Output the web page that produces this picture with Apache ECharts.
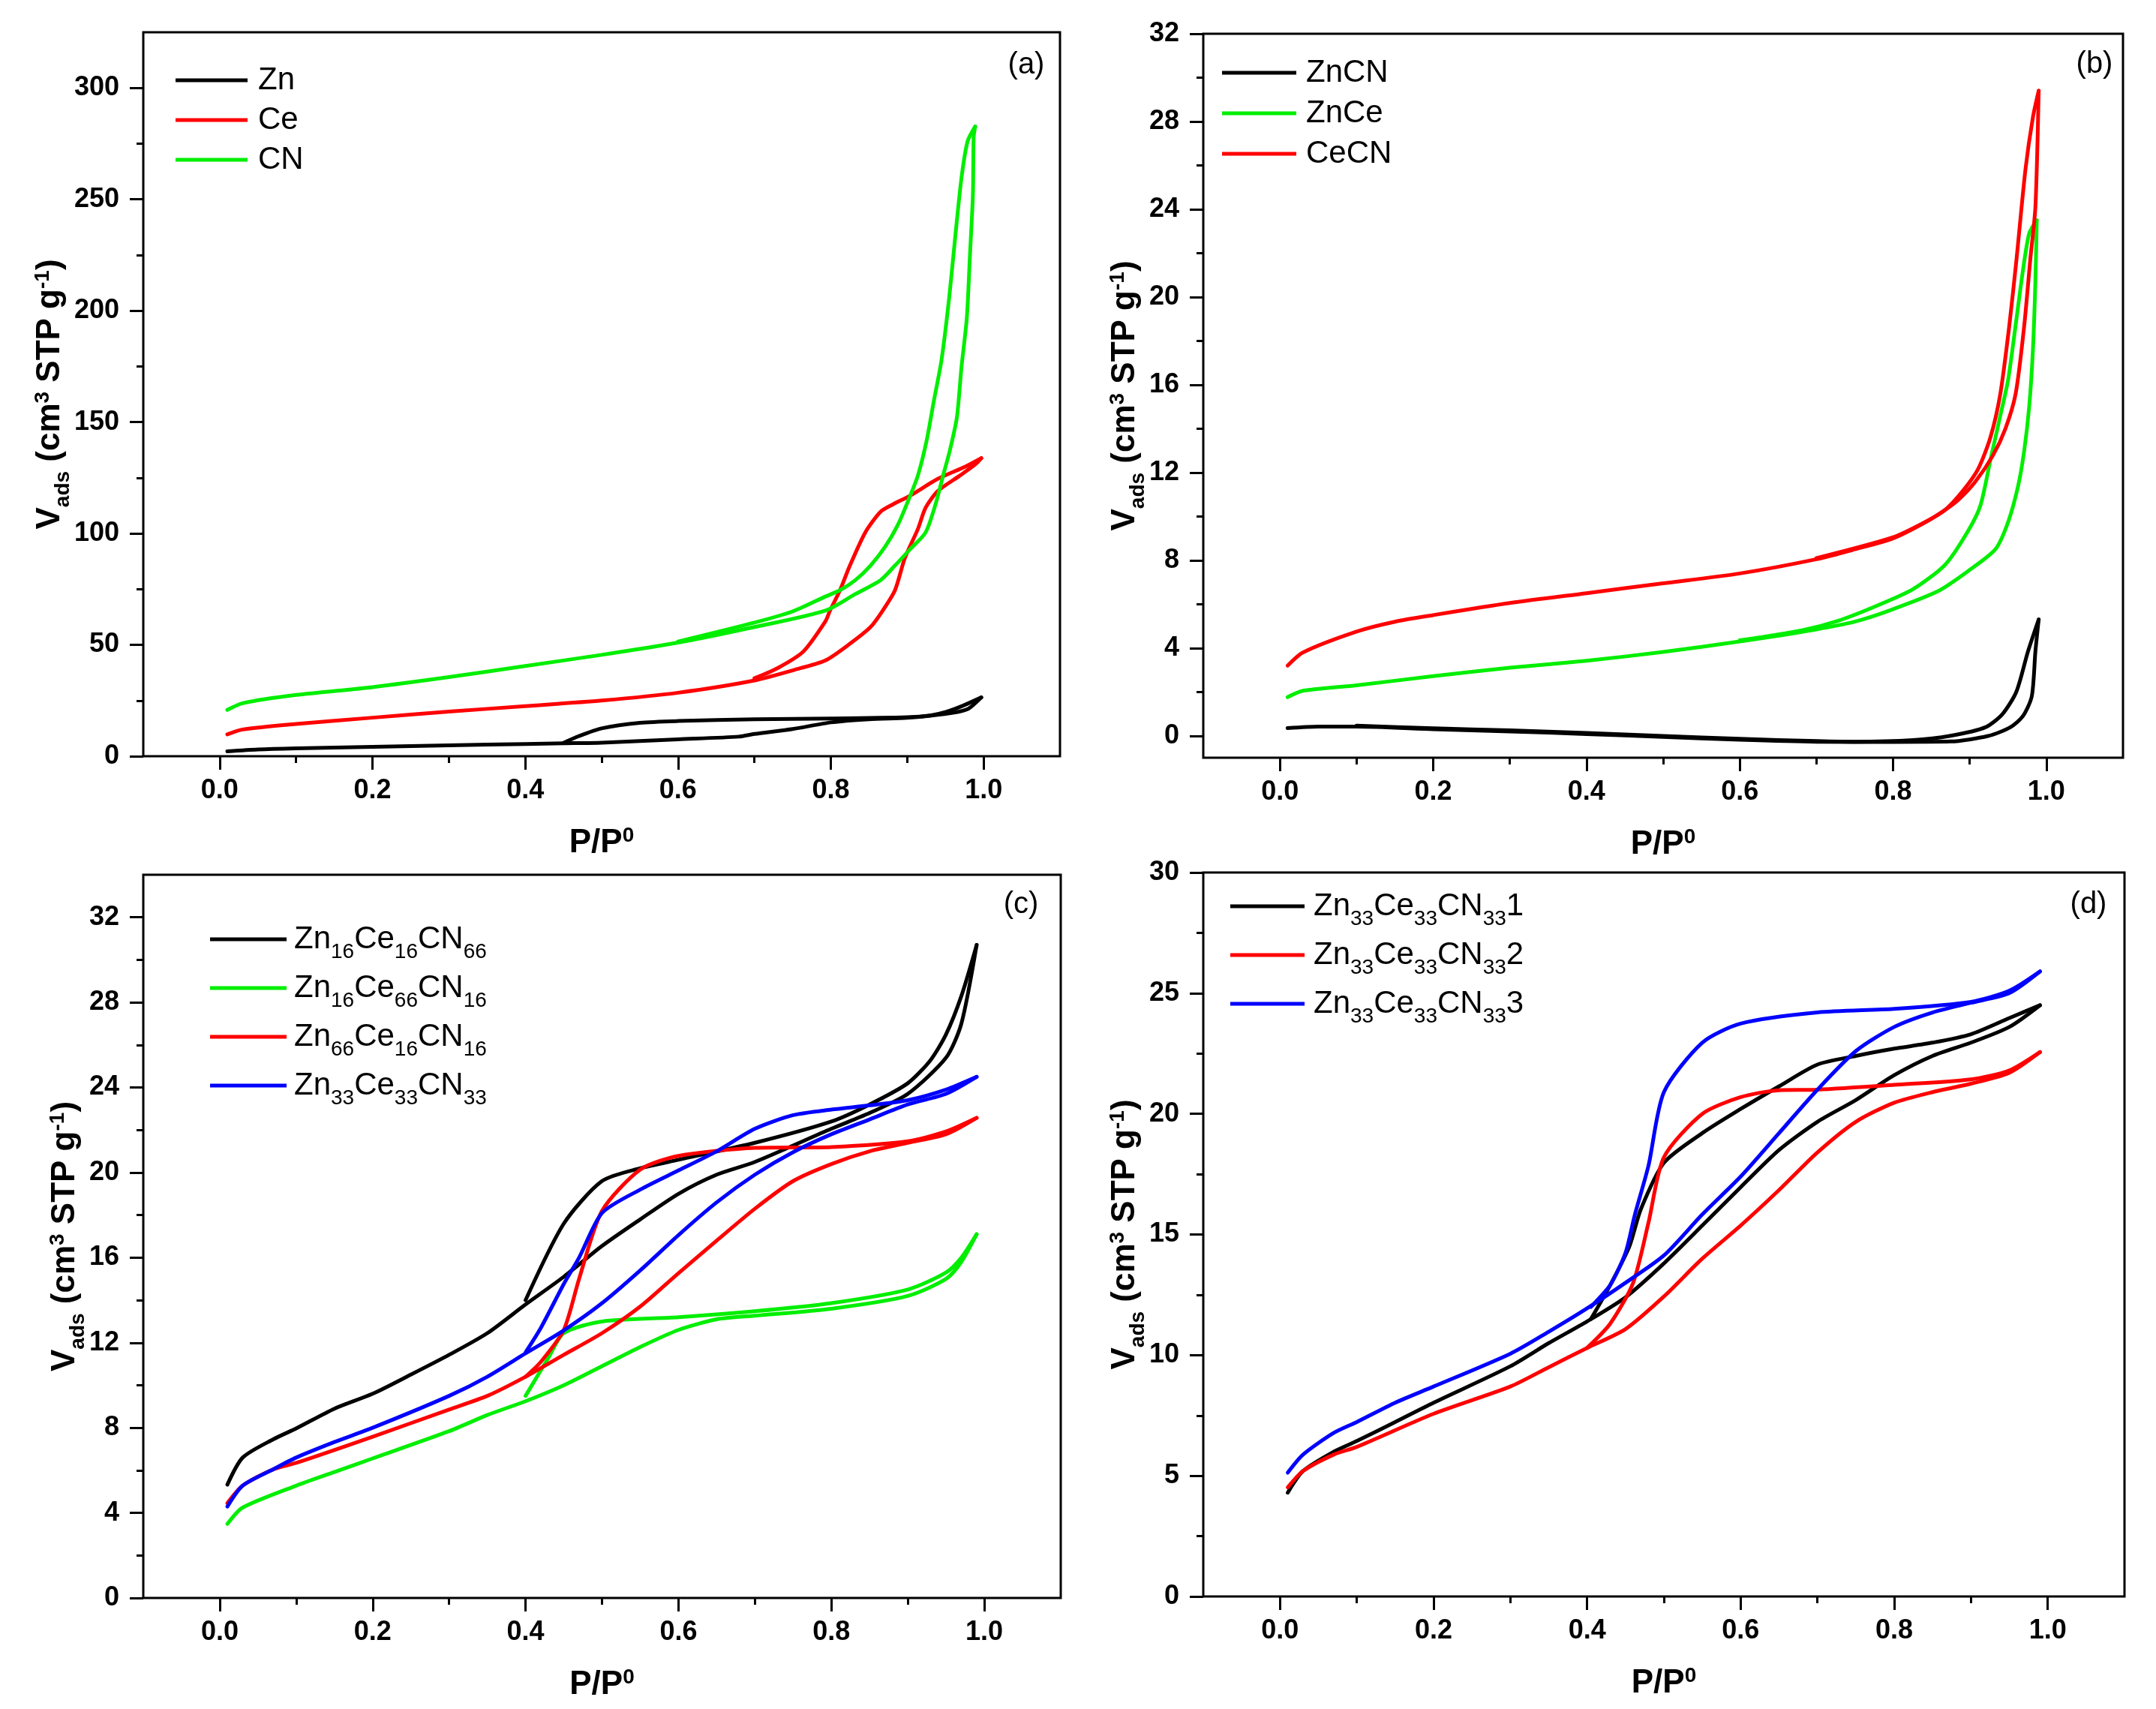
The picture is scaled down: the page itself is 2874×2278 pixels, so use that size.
<!DOCTYPE html>
<html><head><meta charset="utf-8">
<script src="https://cdn.jsdelivr.net/npm/echarts@6/dist/echarts.min.js"></script>
<style>html,body{margin:0;padding:0;background:#fff}#c{width:2874px;height:2278px}</style>
</head><body><div id="c"></div>
<script>
// ---------- DATA (P/P0, V_ads) ----------
// Panel (a)
const znAds = [[0.01,2.2],[0.05,3.0],[0.1,3.5],[0.2,4.2],[0.3,4.9],[0.4,5.5],[0.45,5.8],[0.5,6.1],[0.6,7.6],[0.68,8.8],[0.7,10.0],[0.75,12.2],[0.8,15.2],[0.85,16.6],[0.9,17.3],[0.93,18.2],[0.96,19.5],[0.98,21.3],[0.997,26.4]];
const znDes = [[0.997,26.4],[0.973,22.7],[0.95,19.8],[0.93,18.3],[0.9,17.5],[0.8,16.9],[0.7,16.6],[0.6,15.8],[0.55,15.0],[0.5,12.5],[0.47,9.0],[0.45,6.0]];
const ceAds = [[0.01,9.8],[0.03,12.0],[0.1,14.5],[0.2,17.3],[0.3,20.0],[0.4,22.5],[0.5,25.0],[0.6,28.5],[0.7,34.0],[0.76,39.5],[0.793,43],[0.825,50.5],[0.852,58],[0.868,65.4],[0.884,74.5],[0.897,89],[0.914,102],[0.924,111.5],[0.94,119],[0.969,126],[0.989,131],[0.997,133.8]];
const ceDes = [[0.997,133.8],[0.976,130],[0.94,124.5],[0.904,117],[0.881,113],[0.865,109.7],[0.845,100.4],[0.825,85.6],[0.812,74.5],[0.799,65.4],[0.793,60.6],[0.764,47],[0.73,39.5],[0.7,35]];
const cnAds = [[0.01,20.8],[0.03,23.8],[0.1,27.5],[0.2,31],[0.3,35.5],[0.4,40.5],[0.5,45.5],[0.6,51],[0.7,58],[0.793,65.4],[0.832,72.8],[0.865,79],[0.884,85.6],[0.904,93],[0.924,100.4],[0.937,113],[0.947,126],[0.956,137.5],[0.965,152],[0.971,174.5],[0.978,196.6],[0.982,224],[0.986,252],[0.987,278],[0.989,282.7]];
const cnDes = [[0.989,282.7],[0.979,276],[0.971,259.5],[0.963,233.6],[0.955,206],[0.945,178],[0.935,159.7],[0.925,141],[0.914,126],[0.904,117],[0.888,104],[0.871,94],[0.852,85.6],[0.832,79],[0.812,74.5],[0.793,71.7],[0.75,65],[0.7,60],[0.6,51.5]];
// Panel (b)
const znCnAds = [[0.01,0.35],[0.05,0.42],[0.1,0.42],[0.2,0.3],[0.3,0.2],[0.4,0.08],[0.5,-0.05],[0.6,-0.18],[0.7,-0.27],[0.8,-0.28],[0.875,-0.26],[0.924,-0.01],[0.953,0.39],[0.9695,0.9],[0.981,1.8],[0.9857,3.84],[0.99,5.3]];
const znCnDes = [[0.99,5.3],[0.976,3.84],[0.961,2.02],[0.943,1.0],[0.9205,0.39],[0.875,0.0],[0.826,-0.2],[0.75,-0.27],[0.7,-0.24],[0.6,-0.14],[0.5,-0.01],[0.4,0.13],[0.3,0.25],[0.2,0.34],[0.1,0.46]];
const znCeAds = [[0.01,1.76],[0.03,2.05],[0.1,2.3],[0.2,2.72],[0.3,3.1],[0.4,3.42],[0.5,3.82],[0.6,4.3],[0.7,4.85],[0.75,5.2],[0.793,5.68],[0.858,6.58],[0.8976,7.5],[0.9335,8.5],[0.95,9.73],[0.963,11.36],[0.971,12.97],[0.9776,15.0],[0.9825,17.6],[0.9857,20.7],[0.9875,23.5]];
const znCeDes = [[0.9875,23.5],[0.9776,22.9],[0.969,21.1],[0.9597,18.66],[0.95,16.2],[0.94,14.6],[0.927,12.57],[0.914,10.5],[0.8976,9.32],[0.868,7.8],[0.826,6.68],[0.777,5.9],[0.728,5.24],[0.68,4.8],[0.6,4.35]];
const ceCnAds = [[0.01,3.2],[0.03,3.8],[0.1,4.75],[0.15,5.2],[0.2,5.5],[0.3,6.05],[0.4,6.5],[0.5,6.95],[0.6,7.4],[0.7,8.05],[0.75,8.5],[0.8,9.0],[0.842,9.73],[0.868,10.3],[0.885,10.75],[0.907,11.57],[0.93,12.76],[0.9466,14.0],[0.96,15.6],[0.971,18.65],[0.979,21.7],[0.9857,24.1],[0.99,29.4]];
const ceCnDes = [[0.99,29.4],[0.9825,28.2],[0.9727,25.8],[0.961,21.7],[0.9515,18.65],[0.94,15.6],[0.927,13.6],[0.911,12.16],[0.891,11.16],[0.868,10.3],[0.842,9.75],[0.8,9.05],[0.7,8.1]];
// Panel (c)
const c1Ads = [[0.01,5.33],[0.03,6.6],[0.07,7.46],[0.1,7.97],[0.15,8.9],[0.2,9.6],[0.25,10.5],[0.3,11.43],[0.35,12.45],[0.4,13.8],[0.45,15.1],[0.5,16.55],[0.55,17.8],[0.6,19.0],[0.65,19.9],[0.7,20.5],[0.8,22.06],[0.85,22.8],[0.9,23.7],[0.95,25.4],[0.97,27.0],[0.99,30.7]];
const c1Des = [[0.99,30.7],[0.97,28.3],[0.95,26.5],[0.93,25.3],[0.9,24.2],[0.85,23.2],[0.8,22.4],[0.7,21.4],[0.6,20.6],[0.55,20.2],[0.5,19.6],[0.45,17.6],[0.4,14.0]];
const c2Ads = [[0.01,3.48],[0.03,4.25],[0.1,5.28],[0.15,5.92],[0.2,6.56],[0.3,7.84],[0.35,8.6],[0.4,9.25],[0.45,10.0],[0.5,10.9],[0.55,11.8],[0.6,12.6],[0.65,13.1],[0.7,13.27],[0.8,13.6],[0.9,14.2],[0.95,15.0],[0.97,15.8],[0.99,17.1]];
const c2Des = [[0.99,17.1],[0.97,16.0],[0.95,15.3],[0.9,14.5],[0.8,13.86],[0.7,13.48],[0.6,13.2],[0.5,13.0],[0.45,12.45],[0.43,11.3],[0.4,9.5]];
const c3Ads = [[0.01,4.46],[0.03,5.28],[0.07,6.05],[0.1,6.35],[0.2,7.58],[0.3,8.86],[0.35,9.5],[0.4,10.4],[0.45,11.43],[0.5,12.45],[0.55,13.7],[0.6,15.27],[0.65,16.8],[0.7,18.3],[0.75,19.6],[0.8,20.4],[0.85,21.0],[0.9,21.4],[0.95,21.8],[0.99,22.57]];
const c3Des = [[0.99,22.57],[0.95,21.93],[0.9,21.47],[0.8,21.2],[0.7,21.16],[0.6,20.78],[0.55,20.14],[0.5,18.2],[0.47,15.0],[0.45,12.6],[0.42,11.1],[0.4,10.4]];
const c4Ads = [[0.01,4.3],[0.03,5.28],[0.07,6.05],[0.1,6.6],[0.15,7.33],[0.2,8.0],[0.3,9.5],[0.35,10.4],[0.4,11.5],[0.45,12.58],[0.5,13.86],[0.55,15.4],[0.6,17.06],[0.65,18.6],[0.7,19.9],[0.75,20.96],[0.8,21.8],[0.85,22.5],[0.9,23.2],[0.95,23.7],[0.99,24.5]];
const c4Des = [[0.99,24.5],[0.95,23.9],[0.9,23.4],[0.85,23.16],[0.8,22.96],[0.75,22.7],[0.7,22.06],[0.65,21.0],[0.6,20.1],[0.55,19.2],[0.5,18.1],[0.47,16.0],[0.45,14.76],[0.42,12.7],[0.4,11.55]];
// Panel (d)
const d1Ads = [[0.01,4.3],[0.03,5.2],[0.07,6.0],[0.1,6.44],[0.15,7.23],[0.2,8.03],[0.3,9.54],[0.35,10.5],[0.4,11.4],[0.45,12.4],[0.5,13.8],[0.55,15.37],[0.6,16.96],[0.65,18.5],[0.7,19.67],[0.75,20.57],[0.8,21.6],[0.85,22.4],[0.9,22.95],[0.95,23.6],[0.99,24.5]];
const d1Des = [[0.99,24.5],[0.95,23.97],[0.9,23.3],[0.85,22.95],[0.8,22.7],[0.75,22.4],[0.7,22.04],[0.65,21.14],[0.6,20.2],[0.55,19.2],[0.5,17.97],[0.47,16.05],[0.455,14.5],[0.43,12.9],[0.405,11.5]];
const d2Ads = [[0.01,4.52],[0.03,5.2],[0.07,5.88],[0.1,6.2],[0.2,7.57],[0.3,8.7],[0.35,9.5],[0.4,10.3],[0.45,11.08],[0.5,12.43],[0.55,14.0],[0.6,15.37],[0.65,16.84],[0.7,18.4],[0.75,19.67],[0.8,20.46],[0.85,20.9],[0.9,21.25],[0.95,21.7],[0.99,22.56]];
const d2Des = [[0.99,22.56],[0.95,21.8],[0.9,21.43],[0.8,21.2],[0.7,21.0],[0.65,20.98],[0.6,20.69],[0.55,20.0],[0.5,18.2],[0.48,15.5],[0.46,13.0],[0.43,11.3],[0.4,10.3]];
const d3Ads = [[0.01,5.13],[0.03,5.88],[0.07,6.78],[0.1,7.23],[0.15,8.03],[0.2,8.7],[0.3,10.06],[0.35,10.97],[0.4,11.94],[0.45,13.0],[0.5,14.13],[0.55,15.83],[0.6,17.4],[0.65,19.2],[0.7,21.0],[0.75,22.6],[0.8,23.6],[0.85,24.2],[0.9,24.6],[0.95,25.0],[0.99,25.9]];
const d3Des = [[0.99,25.9],[0.95,25.1],[0.9,24.64],[0.8,24.35],[0.7,24.2],[0.6,23.74],[0.55,22.95],[0.5,20.9],[0.48,17.86],[0.462,15.8],[0.45,14.24],[0.43,12.9],[0.405,12.0]];

const xTickLabels = ['0.0','0.2','0.4','0.6','0.8','1.0'];

// ---------- LAYOUT / STYLE ----------
const FONT = "'Liberation Sans', Arial, Helvetica, sans-serif";
const BLACK = '#000000', RED = '#ff0000', GREEN = '#00ee00', BLUE = '#0000ff';

const panels = [
  { key:'a', L:191, T:43, W:1222, H:965, yMin:0, yMax:325, tMin:0, tMax:300, tInt:50, yGap:102,
    lg:{left:234, top:86, w:96, gap:11, pad:9, rich:false}, lab:[1368,87],
    series:[{name:'Zn', color:BLACK, ads:znAds, des:znDes},{name:'Ce', color:RED, ads:ceAds, des:ceDes},{name:'CN', color:GREEN, ads:cnAds, des:cnDes}] },
  { key:'b', L:1604, T:45, W:1226, H:965, yMin:-1, yMax:32, tMin:0, tMax:32, tInt:4, yGap:82,
    lg:{left:1629, top:76, w:99, gap:12, pad:8, rich:false}, lab:[2792,86],
    series:[{name:'ZnCN', color:BLACK, ads:znCnAds, des:znCnDes},{name:'ZnCe', color:GREEN, ads:znCeAds, des:znCeDes},{name:'CeCN', color:RED, ads:ceCnAds, des:ceCnDes}] },
  { key:'c', L:191, T:1166, W:1223, H:964, yMin:0, yMax:34, tMin:0, tMax:32, tInt:4, yGap:82,
    lg:{left:280, top:1221, w:102, gap:3, pad:5, rich:true}, lab:[1361,1206],
    series:[{name:'Zn16Ce16CN66', color:BLACK, ads:c1Ads, des:c1Des},{name:'Zn16Ce66CN16', color:GREEN, ads:c2Ads, des:c2Des},{name:'Zn66Ce16CN16', color:RED, ads:c3Ads, des:c3Des},{name:'Zn33Ce33CN33', color:BLUE, ads:c4Ads, des:c4Des}] },
  { key:'d', L:1604, T:1163, W:1228, H:965, yMin:0, yMax:30, tMin:0, tMax:30, tInt:5, yGap:82,
    lg:{left:1640, top:1177, w:99, gap:3, pad:7, rich:true}, lab:[2784,1206],
    series:[{name:'Zn33Ce33CN33 1', color:BLACK, ads:d1Ads, des:d1Des},{name:'Zn33Ce33CN33 2', color:RED, ads:d2Ads, des:d2Des},{name:'Zn33Ce33CN33 3', color:BLUE, ads:d3Ads, des:d3Des}] }
];

const legendRich = {
  'Zn16Ce16CN66':'{m|Zn}{s|16}{m|Ce}{s|16}{m|CN}{s|66}',
  'Zn16Ce66CN16':'{m|Zn}{s|16}{m|Ce}{s|66}{m|CN}{s|16}',
  'Zn66Ce16CN16':'{m|Zn}{s|66}{m|Ce}{s|16}{m|CN}{s|16}',
  'Zn33Ce33CN33':'{m|Zn}{s|33}{m|Ce}{s|33}{m|CN}{s|33}',
  'Zn33Ce33CN33 1':'{m|Zn}{s|33}{m|Ce}{s|33}{m|CN}{s|33}{m|1}',
  'Zn33Ce33CN33 2':'{m|Zn}{s|33}{m|Ce}{s|33}{m|CN}{s|33}{m|2}',
  'Zn33Ce33CN33 3':'{m|Zn}{s|33}{m|Ce}{s|33}{m|CN}{s|33}{m|3}'
};

const titleRich = {
  b:  { fontFamily:FONT, fontSize:44, fontWeight:'bold', color:'#000', lineHeight:44, verticalAlign:'middle' },
  sub:{ fontFamily:FONT, fontSize:28, fontWeight:'bold', color:'#000', lineHeight:28, verticalAlign:'middle', padding:[35,0,0,0] },
  sup:{ fontFamily:FONT, fontSize:28, fontWeight:'bold', color:'#000', lineHeight:28, verticalAlign:'middle', padding:[0,0,20,0] }
};
const yTitle = '{b|V}{sub|ads}{b| (cm}{sup|3}{b| STP g}{sup|-1}{b|)}';
const xTitle = '{b|P/P}{sup|0}';

const tickLabelStyle = { fontFamily:FONT, fontSize:36, fontWeight:'bold', color:'#000' };

const grid = [], xAxis = [], yAxis = [], series = [], legend = [], graphic = [];

panels.forEach((p, i) => {
  const gData = 3*i, gX = 3*i+1, gY = 3*i+2;
  grid.push({ left:p.L, top:p.T, width:p.W, height:p.H, show:true, borderColor:'#000', borderWidth:3, backgroundColor:'transparent', containLabel:false, outerBoundsMode:'none' });
  grid.push({ left:p.L + p.W/12, top:p.T, width:p.W*10/12, height:p.H, show:false, containLabel:false, outerBoundsMode:'none' });
  const span = p.yMax - p.yMin;
  const tTop = p.T + p.H*(p.yMax - p.tMax)/span;
  const tH = p.H*(p.tMax - p.tMin)/span;
  grid.push({ left:p.L, top:tTop, width:p.W, height:tH, show:false, containLabel:false, outerBoundsMode:'none' });

  xAxis.push({ gridIndex:gData, type:'value', min:-0.1, max:1.1,
    axisLine:{show:false}, axisTick:{show:false}, axisLabel:{show:false}, splitLine:{show:false},
    name:xTitle, nameLocation:'middle', nameGap:94, nameTextStyle:{ rich:titleRich } });
  yAxis.push({ gridIndex:gData, type:'value', min:p.yMin, max:p.yMax,
    axisLine:{show:false}, axisTick:{show:false}, axisLabel:{show:false}, splitLine:{show:false},
    name:yTitle, nameLocation:'middle', nameGap:p.yGap, nameTextStyle:{ rich:titleRich } });
  xAxis.push({ gridIndex:gX, type:'value', min:0, max:1, interval:0.2, position:'bottom',
    axisLine:{show:false, onZero:false},
    axisTick:{show:true, length:18, lineStyle:{color:'#000', width:3}},
    minorTick:{show:true, splitNumber:2, length:9, lineStyle:{color:'#000', width:3}},
    axisLabel:{ show:true, margin:28, ...tickLabelStyle, formatter: v => xTickLabels[Math.round(v/0.2)] },
    splitLine:{show:false}, minorSplitLine:{show:false} });
  yAxis.push({ gridIndex:gX, type:'value', min:0, max:1, show:false, axisLine:{onZero:false} });
  xAxis.push({ gridIndex:gY, type:'value', min:0, max:1, show:false, axisLine:{onZero:false} });
  yAxis.push({ gridIndex:gY, type:'value', min:p.tMin, max:p.tMax, interval:p.tInt, position:'left',
    axisLine:{show:false, onZero:false},
    axisTick:{show:true, length:18, lineStyle:{color:'#000', width:3}},
    minorTick:{show:true, splitNumber:2, length:9, lineStyle:{color:'#000', width:3}},
    axisLabel:{ show:true, margin:32, ...tickLabelStyle },
    splitLine:{show:false}, minorSplitLine:{show:false} });

  // adsorption and desorption branches: two series sharing one name (one legend entry)
  p.series.forEach(s => {
    [s.ads, s.des].forEach(branch => {
      series.push({ name:s.name, type:'line', xAxisIndex:gData, yAxisIndex:gData,
        data: branch, symbol:'none', showSymbol:false, smooth:0.25,
        lineStyle:{ color:s.color, width:5, join:'round', cap:'round' }, itemStyle:{ color:s.color },
        emphasis:{disabled:true}, silent:true, z:3 });
    });
  });

  const lgText = p.lg.rich
    ? { fontFamily:FONT, fontSize:42, color:'#000', padding:[0,0,0,p.lg.pad],
        rich:{ m:{ fontFamily:FONT, fontSize:42, color:'#000', lineHeight:42, verticalAlign:'middle' },
               s:{ fontFamily:FONT, fontSize:28, color:'#000', lineHeight:28, verticalAlign:'middle', padding:[34,0,0,0] } } }
    : { fontFamily:FONT, fontSize:42, color:'#000', lineHeight:42, padding:[0,0,0,p.lg.pad] };
  legend.push({ show:true, orient:'vertical', left:p.lg.left, top:p.lg.top, padding:0,
    icon:'rect', itemWidth:p.lg.w, itemHeight:5, itemGap:p.lg.gap, selectedMode:false,
    data:p.series.map(s => s.name), textStyle:lgText,
    formatter: p.lg.rich ? (n => legendRich[n]) : (n => n) });

  graphic.push({ type:'text', x:p.lab[0], y:p.lab[1], z:10,
    style:{ text:'(' + p.key + ')', font:'40px ' + FONT, fill:'#000', textAlign:'center', textVerticalAlign:'middle' } });
});

const chart = echarts.init(document.getElementById('c'), null, { renderer:'canvas', width:2874, height:2278 });
chart.setOption({ backgroundColor:'#ffffff', animation:false, grid, xAxis, yAxis, series, legend, graphic });
</script>
</body></html>
